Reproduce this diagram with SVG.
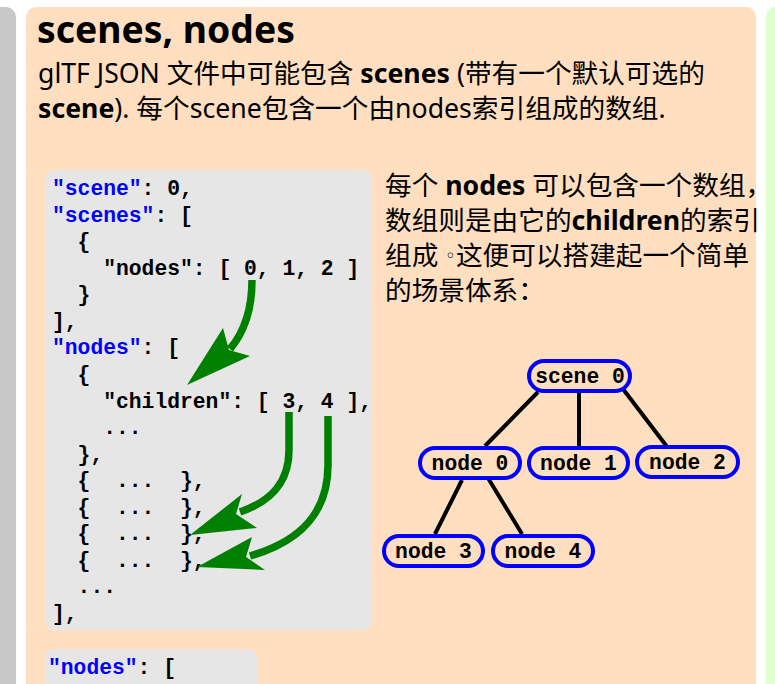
<svg xmlns="http://www.w3.org/2000/svg" width="775" height="684" viewBox="0 0 775 684">
  <style>
    .txt { font-family: "Noto Sans", "Noto Sans CJK SC", sans-serif; fill: #000; }
    .title { font-size: 37.3px; font-weight: bold; }
    .body { font-size: 26.67px; }
    .b { font-weight: bold; }
    .dot { font-family: "DejaVu Sans", sans-serif; font-size: 18px; }
    .code { font-family: "Liberation Mono", "DejaVu Sans Mono", monospace; font-size: 21.33px; font-weight: bold; fill: #000; white-space: pre; }
    .key { fill: #0000ff; }
    .arrow-shaft { fill: none; stroke: #008000; stroke-width: 7.5; }
    .arrow-head { fill: #008000; }
    .edge { stroke: #000; stroke-width: 4; }
    .node rect { fill: #ffdfc0; stroke: #0000ff; stroke-width: 4; }
    .node text { font-family: "Liberation Mono", "DejaVu Sans Mono", monospace; font-size: 21.33px; font-weight: bold; text-anchor: middle; }
  </style>

  <!-- page background and side panels -->
  <rect x="0" y="0" width="775" height="684" fill="#ffffff"/>
  <path d="M0,7 H6 a10,10 0 0 1 10,10 V684 H0 Z" fill="#c8c8c8"/>
  <rect x="26" y="7" width="730" height="700" rx="10" fill="#ffdfc0"/>
  <rect x="766" y="7" width="40" height="700" rx="10" fill="#dfffcf"/>

  <!-- heading and intro -->
  <text class="txt title" x="37" y="43">scenes, nodes</text>
  <text class="txt body" x="38" y="83">glTF JSON 文件中可能包含 <tspan class="b">scenes</tspan> (带有一个默认可选的</text>
  <text class="txt body" x="38" y="118"><tspan class="b">scene</tspan>). 每个scene包含一个由nodes索引组成的数组.</text>

  <!-- JSON listing -->
  <rect x="45" y="170" width="327" height="460" rx="9" fill="#e6e6e6"/>
  <g class="code">
    <text x="52" y="195" xml:space="preserve"><tspan class="key">"scene"</tspan>: 0,</text>
    <text x="52" y="221.6" xml:space="preserve"><tspan class="key">"scenes"</tspan>: [</text>
    <text x="52" y="248.1" xml:space="preserve">  {</text>
    <text x="52" y="274.7" xml:space="preserve">    "nodes": [ 0, 1, 2 ]</text>
    <text x="52" y="301.2" xml:space="preserve">  }</text>
    <text x="52" y="327.8" xml:space="preserve">],</text>
    <text x="52" y="354.4" xml:space="preserve"><tspan class="key">"nodes"</tspan>: [</text>
    <text x="52" y="380.9" xml:space="preserve">  {</text>
    <text x="52" y="407.5" xml:space="preserve">    "children": [ 3, 4 ],</text>
    <text x="52" y="434" xml:space="preserve">    ...</text>
    <text x="52" y="460.6" xml:space="preserve">  },</text>
    <text x="52" y="487.2" xml:space="preserve">  {  ...  },</text>
    <text x="52" y="513.7" xml:space="preserve">  {  ...  },</text>
    <text x="52" y="540.3" xml:space="preserve">  {  ...  },</text>
    <text x="52" y="566.8" xml:space="preserve">  {  ...  },</text>
    <text x="52" y="593.4" xml:space="preserve">  ...</text>
    <text x="52" y="620" xml:space="preserve">],</text>
  </g>

  <!-- second listing, partly visible -->
  <rect x="45" y="649" width="212" height="60" rx="9" fill="#e6e6e6"/>
  <text class="code" x="48" y="674" xml:space="preserve"><tspan class="key">"nodes"</tspan>: [</text>

  <!-- index arrows -->
  <g id="index-arrows">
    <path class="arrow-shaft" d="M252,280 C252,306 246,330 230,349"/>
    <polygon class="arrow-head" points="187,385 223,328 229,350 250,356"/>
    <path class="arrow-shaft" d="M289,412 L289,450 C289,482 272,501 240,512"/>
    <polygon class="arrow-head" points="190,535 242,494 236,514 257,528"/>
    <path class="arrow-shaft" d="M328,416 L328,465 C328,512 302,541 250,556"/>
    <polygon class="arrow-head" points="197,567 252,537 246,557 265,570"/>
  </g>

  <!-- explanation -->
  <text class="txt body" x="385" y="195">每个 <tspan class="b">nodes</tspan> 可以包含一个数组，</text>
  <text class="txt body" x="385" y="230">数组则是由它的<tspan class="b">children</tspan>的索引</text>
  <text class="txt body" x="385" y="265" xml:space="preserve">组成 <tspan class="dot" dy="-3">◦</tspan><tspan dy="3">这便可以搭建起一个简单</tspan></text>
  <text class="txt body" x="385" y="300">的场景体系：</text>

  <!-- scene hierarchy -->
  <g id="connectors">
    <line class="edge" x1="538" y1="392" x2="485" y2="446"/>
    <line class="edge" x1="579" y1="393" x2="579" y2="446"/>
    <line class="edge" x1="623" y1="389" x2="668" y2="448"/>
    <line class="edge" x1="462" y1="480" x2="435" y2="534"/>
    <line class="edge" x1="488" y1="478" x2="522" y2="534"/>
  </g>
  <g id="scene0" class="node">
    <rect x="529" y="361" width="101" height="30" rx="15"/>
    <text x="580" y="383">scene 0</text>
  </g>
  <g id="node0" class="node">
    <rect x="420" y="448" width="100" height="30" rx="15"/>
    <text x="470" y="470">node 0</text>
  </g>
  <g id="node1" class="node">
    <rect x="529" y="448" width="99" height="30" rx="15"/>
    <text x="578.5" y="470">node 1</text>
  </g>
  <g id="node2" class="node">
    <rect x="637" y="447" width="101" height="30" rx="15"/>
    <text x="687.5" y="469">node 2</text>
  </g>
  <g id="node3" class="node">
    <rect x="384" y="536" width="99" height="30" rx="15"/>
    <text x="433.5" y="558">node 3</text>
  </g>
  <g id="node4" class="node">
    <rect x="493" y="536" width="100" height="30" rx="15"/>
    <text x="543" y="558">node 4</text>
  </g>
</svg>
